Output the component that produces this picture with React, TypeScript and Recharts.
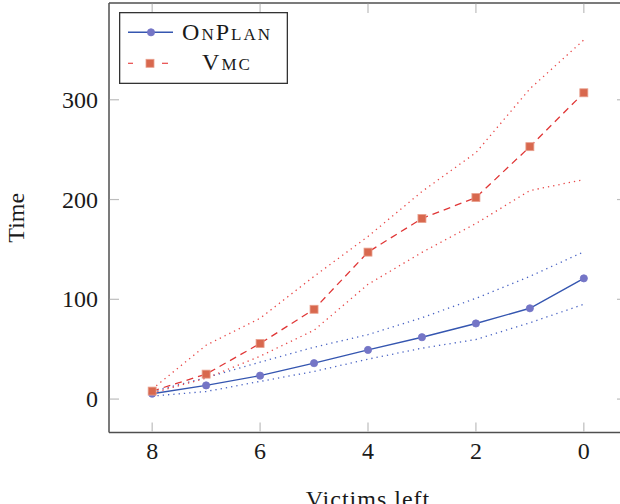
import React from 'react';
import { LineChart, Line, XAxis, YAxis, Legend, ReferenceLine } from 'recharts';

// ---- data ----
const victimsLeft = [8, 7, 6, 5, 4, 3, 2, 1, 0];
const onPlan = [5.4, 13.7, 23.5, 36, 49.3, 62, 75.8, 91, 121];
const onPlanUpper = [7.5, 21.5, 37, 52, 64.6, 81.5, 101, 123, 147.6];
const onPlanLower = [3, 7.6, 17.7, 27.7, 40, 51, 59.7, 76.5, 95];
const vmc = [8, 25, 55.7, 90, 147.3, 181, 202, 253, 307];
const vmcUpper = [10, 54, 81, 123, 163, 208, 247, 311, 360];
const vmcLower = [6, 21, 43, 69, 115, 147, 176, 209, 220];
const xTicks = [0, 2, 4, 6, 8];
const yTicks = [0, 100, 200, 300];
const seriesNames = ['OnPlan', 'Vmc'];
const xDomain: [number, number] = [-0.8, 8.8];
const yDomain: [number, number] = [-33.5, 397];

const data = victimsLeft.map((v, i) => ({
  x: v,
  onPlan: onPlan[i],
  onPlanUpper: onPlanUpper[i],
  onPlanLower: onPlanLower[i],
  vmc: vmc[i],
  vmcUpper: vmcUpper[i],
  vmcLower: vmcLower[i],
}));

// ---- layout ----
const CHART_W = 628;
const CHART_H = 504;
const MARGIN = { top: 3, right: 1, left: 0, bottom: 0 };
const Y_AXIS_W = 109;
const X_AXIS_H = 71.5;
const PLOT_TOP = MARGIN.top;
const PLOT_RIGHT = CHART_W - MARGIN.right;
const TICK_LEN = 10;
const FONT = 'Liberation Serif';
const TEXT_COLOR = '#1a1a1a';
const TICK_COLOR = '#bdbdbd';
const FRAME = { stroke: '#4f4f4f', strokeWidth: 1.5 };

const BLUE_LINE = '#3556b0';
const BLUE_MARK = '#7475c6';
const BLUE_DOT = '#4a64c4';
const RED_LINE = '#e03636';
const RED_MARK = '#d8684e';
const RED_DOT = '#e84848';

const XTick = (props: any) => {
  const { x, y, payload } = props;
  return (
    <g>
      <line x1={x} x2={x} y1={y - 0.8} y2={y - TICK_LEN} stroke={TICK_COLOR} strokeWidth={1.2} />
      <line x1={x} x2={x} y1={PLOT_TOP + 0.8} y2={PLOT_TOP + TICK_LEN} stroke={TICK_COLOR} strokeWidth={1.2} />
      <text x={x} y={y + 26} textAnchor="middle" fontFamily={FONT} fontSize={24} fill={TEXT_COLOR}>
        {payload.value}
      </text>
    </g>
  );
};

const YTick = (props: any) => {
  const { x, y, payload } = props;
  return (
    <g>
      <line x1={x + 0.8} x2={x + TICK_LEN} y1={y} y2={y} stroke={TICK_COLOR} strokeWidth={1.2} />
      <line x1={PLOT_RIGHT - TICK_LEN} x2={PLOT_RIGHT - 0.8} y1={y} y2={y} stroke={TICK_COLOR} strokeWidth={1.2} />
      <text x={x - 11} y={y + 8} textAnchor="end" fontFamily={FONT} fontSize={24} fill={TEXT_COLOR}>
        {payload.value}
      </text>
    </g>
  );
};

const XLabel = (props: any) => {
  const vb = props.viewBox || {};
  return (
    <text
      x={vb.x + vb.width / 2}
      y={vb.y + 74.5}
      textAnchor="middle"
      fontFamily={FONT}
      fontSize={24}
      letterSpacing={1}
      fill={TEXT_COLOR}
    >
      Victims left
    </text>
  );
};

const YLabel = () => {
  const cx = 24;
  const cy = PLOT_TOP + (CHART_H - X_AXIS_H - PLOT_TOP) / 2;
  return (
    <text
      x={cx}
      y={cy}
      transform={`rotate(-90, ${cx}, ${cy})`}
      textAnchor="middle"
      fontFamily={FONT}
      fontSize={24}
      fill={TEXT_COLOR}
    >
      Time
    </text>
  );
};

const SquareDot = (props: any) => {
  const { cx, cy, index } = props;
  if (cx == null || cy == null) return null;
  return (
    <rect
      key={`sq-${index}`}
      x={cx - 4}
      y={cy - 4}
      width={8}
      height={8}
      fill={RED_MARK}
      stroke="#e9a08e"
      strokeWidth={0.8}
    />
  );
};

const LegendBox = () => (
  <svg width={169} height={72} style={{ display: 'block' }}>
    <rect x={0.65} y={0.65} width={167.7} height={70.7} fill="#ffffff" stroke="#333333" strokeWidth={1.3} />
    <line x1={9} x2={54} y1={20.3} y2={20.3} stroke={BLUE_LINE} strokeWidth={1.6} />
    <circle cx={32} cy={20.3} r={3.6} fill={BLUE_MARK} stroke={BLUE_MARK} strokeWidth={0.8} />
    <text
      x={108}
      y={27.5}
      textAnchor="middle"
      fontFamily={FONT}
      fontSize={24}
      letterSpacing={2}
      style={{ fontVariant: 'small-caps' }}
      fill={TEXT_COLOR}
    >
      {seriesNames[0]}
    </text>
    <line x1={9} x2={14} y1={51.3} y2={51.3} stroke={RED_DOT} strokeWidth={1.2} />
    <line x1={43} x2={49} y1={51.3} y2={51.3} stroke={RED_DOT} strokeWidth={1.2} />
    <rect x={27} y={47.3} width={8} height={8} fill={RED_MARK} stroke="#e9a08e" strokeWidth={0.8} />
    <text
      x={108}
      y={57.5}
      textAnchor="middle"
      fontFamily={FONT}
      fontSize={24}
      letterSpacing={2}
      style={{ fontVariant: 'small-caps' }}
      fill={TEXT_COLOR}
    >
      {seriesNames[1]}
    </text>
  </svg>
);

export default function App() {
  return (
    <div
      style={{
        position: 'fixed',
        left: 0,
        top: 0,
        width: 620,
        height: 504,
        overflow: 'hidden',
        background: '#fff',
      }}
    >
      <LineChart width={CHART_W} height={CHART_H} data={data} margin={MARGIN}>
        <XAxis
          dataKey="x"
          type="number"
          domain={xDomain}
          allowDataOverflow
          reversed
          ticks={xTicks}
          tick={<XTick />}
          tickLine={false}
          axisLine={FRAME}
          tickSize={0}
          tickMargin={0}
          height={X_AXIS_H}
          label={<XLabel />}
        />
        <YAxis
          type="number"
          domain={yDomain}
          allowDataOverflow
          ticks={yTicks}
          tick={<YTick />}
          tickLine={false}
          axisLine={FRAME}
          tickSize={0}
          tickMargin={0}
          width={Y_AXIS_W}
          label={<YLabel />}
        />
        <Line dataKey="onPlanUpper" stroke={BLUE_DOT} strokeWidth={1.3} strokeDasharray="1.3 4" dot={false} isAnimationActive={false} legendType="none" />
        <Line dataKey="onPlanLower" stroke={BLUE_DOT} strokeWidth={1.3} strokeDasharray="1.3 4" dot={false} isAnimationActive={false} legendType="none" />
        <Line dataKey="vmcUpper" stroke={RED_DOT} strokeWidth={1.3} strokeDasharray="1.3 4" dot={false} isAnimationActive={false} legendType="none" />
        <Line dataKey="vmcLower" stroke={RED_DOT} strokeWidth={1.3} strokeDasharray="1.3 4" dot={false} isAnimationActive={false} legendType="none" />
        <Line
          dataKey="onPlan"
          name={seriesNames[0]}
          stroke={BLUE_LINE}
          strokeWidth={1.4}
          dot={{ r: 3.6, fill: BLUE_MARK, stroke: BLUE_MARK, strokeWidth: 0.8 }}
          isAnimationActive={false}
        />
        <Line
          dataKey="vmc"
          name={seriesNames[1]}
          stroke={RED_LINE}
          strokeWidth={1.3}
          strokeDasharray="7 5"
          dot={<SquareDot />}
          isAnimationActive={false}
        />
        <ReferenceLine y={yDomain[1]} ifOverflow="visible" stroke={FRAME.stroke} strokeWidth={FRAME.strokeWidth} />
        <ReferenceLine x={xDomain[0]} ifOverflow="visible" stroke={FRAME.stroke} strokeWidth={FRAME.strokeWidth} />
        <Legend
          layout="horizontal"
          verticalAlign="middle"
          align="center"
          wrapperStyle={{ left: 119, top: 12, width: 169, height: 72 }}
          content={<LegendBox />}
        />
      </LineChart>
    </div>
  );
}
